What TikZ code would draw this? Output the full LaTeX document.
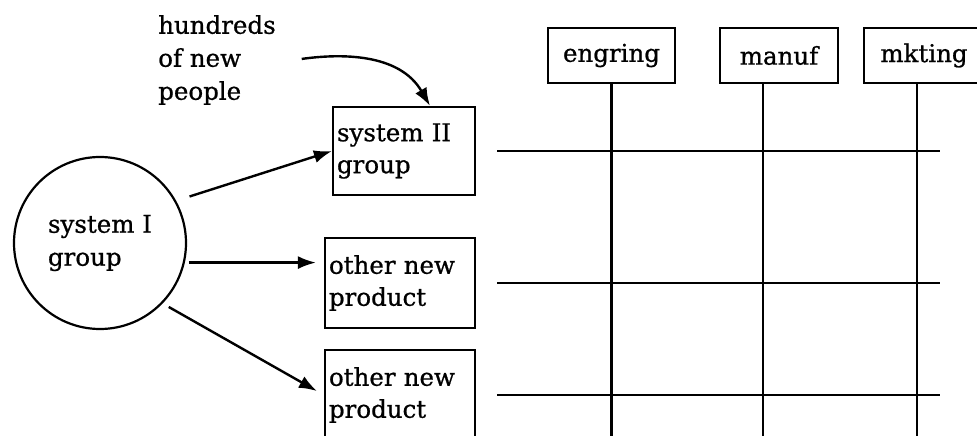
\documentclass[tikz,border=0pt]{standalone}
\usepackage{fontspec}
\setmainfont{DejaVu Serif}[FakeBold=0.8]
\usetikzlibrary{arrows.meta,positioning}

\begin{document}
\begin{tikzpicture}[x=1pt, y=1pt,
    grp/.style={draw, line width=2.2pt, circle, minimum size=172pt, inner sep=0pt, align=left, font=\fontsize{24.5}{33}\selectfont},
    box/.style={draw, line width=2.2pt, minimum width=150pt, minimum height=90pt, inner sep=4pt, align=left, text width=142pt, font=\fontsize{24.5}{32}\selectfont},
    dept/.style={draw, line width=2.2pt, minimum height=55pt, inner sep=0pt, font=\fontsize{24.5}{26}\selectfont},
    arr/.style={-{Latex[length=18pt, width=13pt]}, line width=2.4pt},
    ln/.style={line width=2.4pt}
]
\useasboundingbox (0,0) rectangle (977,436);
\clip (0,0) rectangle (977,436);

\node[grp] (sysI) at (100,193) {system I\\group};
\node[box, minimum width=142pt, minimum height=88pt, text width=134pt] (sysII) at (404,285) {system II\\group};
\node[box] (other1) at (400,153) {other new\\product};
\node[box] (other2) at (400,41) {other new\\product};
\node[align=left, inner sep=4pt, font=\fontsize{24.5}{33}\selectfont] (hund) at (217,376) {hundreds\\of new\\people};

\node[dept, minimum width=127pt] (eng) at (611.5,380.5) {engring};
\node[dept, minimum width=118pt] (manuf) at (779,380.5) {manuf};
\node[dept, minimum width=120pt] (mkt) at (924,380.5) {mkting};

\coordinate (bot) at (0,-5);
\coordinate (hl) at (497,0);
\coordinate (hr) at (940,0);

% arrows from the old group
\draw[arr, shorten <=14pt] (sysI.29) -- (sysII.west);
\draw[arr, shorten <=4pt, shorten >=8pt] (sysI.-13) -- (sysI.-13 -| other1.west);
\draw[arr, shorten <=7pt, shorten >=8pt] (sysI.-44) -- (other2.west);
\draw[arr, shorten <=22pt] ([yshift=-2pt]hund.east) to[out=8, in=120] ([xshift=26pt]sysII.north);

% matrix
\draw[ln] (eng.south) -- (eng.south |- bot);
\draw[ln] ([xshift=-16pt]manuf.south) -- ([xshift=-16pt]manuf.south |- bot);
\draw[ln] ([xshift=-7pt]mkt.south) -- ([xshift=-7pt]mkt.south |- bot);
\draw[ln] (hl |- sysII) -- (hr |- sysII);
\draw[ln] (hl |- other1) -- (hr |- other1);
\draw[ln] (hl |- other2) -- (hr |- other2);
\end{tikzpicture}
\end{document}
